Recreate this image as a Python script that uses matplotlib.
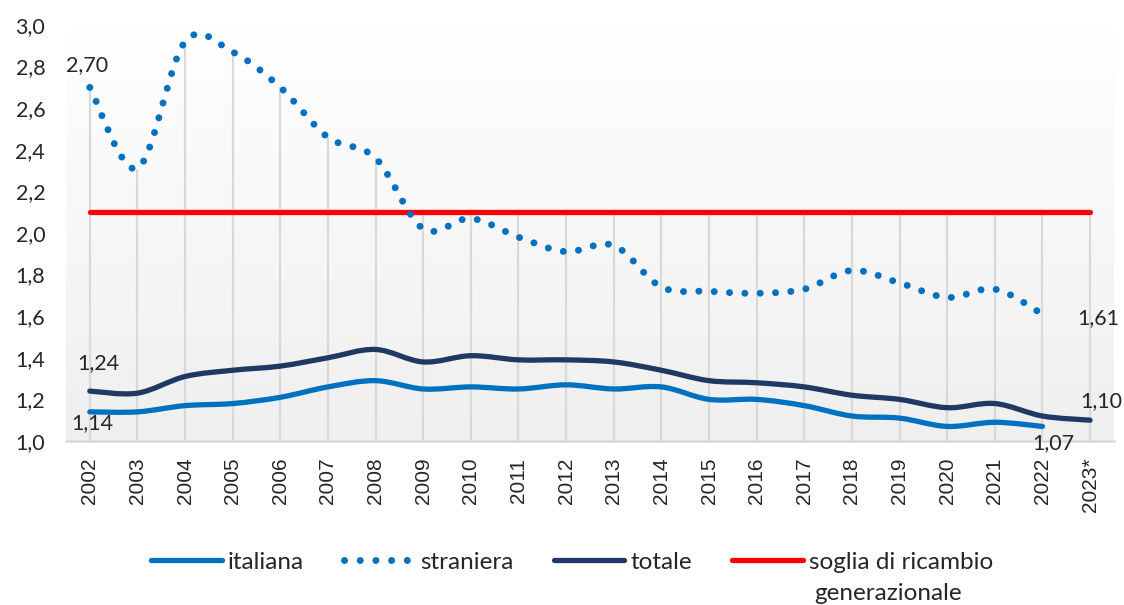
import numpy as np
import matplotlib
matplotlib.use('Agg')
import matplotlib.pyplot as plt
from matplotlib.path import Path
from matplotlib.patches import PathPatch
from matplotlib.lines import Line2D
from matplotlib.colors import LinearSegmentedColormap

# Data
years = ['2002', '2003', '2004', '2005', '2006', '2007', '2008', '2009', '2010', '2011',
         '2012', '2013', '2014', '2015', '2016', '2017', '2018', '2019', '2020', '2021',
         '2022', '2023*']
italiana = [1.14, 1.14, 1.17, 1.18, 1.21, 1.26, 1.29, 1.25, 1.26, 1.25, 1.27, 1.25, 1.26,
            1.20, 1.20, 1.17, 1.12, 1.11, 1.07, 1.09, 1.07]
straniera = [2.70, 2.31, 2.92, 2.87, 2.70, 2.46, 2.36, 2.02, 2.07, 1.98, 1.91, 1.94, 1.74,
             1.72, 1.71, 1.73, 1.82, 1.76, 1.69, 1.73, 1.61]
totale = [1.24, 1.23, 1.31, 1.34, 1.36, 1.40, 1.44, 1.38, 1.41, 1.39, 1.39, 1.38, 1.34,
          1.29, 1.28, 1.26, 1.22, 1.20, 1.16, 1.18, 1.12, 1.10]
soglia = 2.1

c_ita = '#0070C0'
c_str = '#0070C0'
c_tot = '#1F3864'
c_sog = '#FF0000'
c_txt = '#262626'

plt.rcParams['font.family'] = ['Lato', 'DejaVu Sans']


# Excel-like smoothed line as a cubic bezier path
def smooth_path(ys):
    pts = np.column_stack([np.arange(len(ys)), ys]).astype(float)
    n = len(pts)
    verts = [pts[0]]
    codes = [Path.MOVETO]
    for i in range(n - 1):
        p0 = pts[max(i - 1, 0)]
        p1 = pts[i]
        p2 = pts[i + 1]
        p3 = pts[min(i + 2, n - 1)]
        verts += [p1 + (p2 - p0) / 6, p2 - (p3 - p1) / 6, p2]
        codes += [Path.CURVE4] * 3
    return Path(verts, codes)


fig = plt.figure(figsize=(11.24, 6.05), dpi=100)
ax = fig.add_axes([0.0587, 0.2711, 0.9323, 0.6876])

# Gradient plot area
cmap = LinearSegmentedColormap.from_list('bg', ['#efefef', '#ffffff'])
ax.imshow(np.linspace(0, 1, 256).reshape(-1, 1), extent=[-0.5, 21.5, 1.0, 3.0],
          aspect='auto', cmap=cmap, origin='lower', zorder=0)

x = np.arange(len(years))

# Drop lines from the highest point to the axis
tops = []
for i in range(len(years)):
    vals = [soglia, totale[i]]
    if i < len(straniera):
        vals.append(straniera[i])
        vals.append(italiana[i])
    tops.append(max(vals))
ax.vlines(x, 1.0, tops, color='#d9d9d9', lw=1.6, zorder=1)

# Threshold line
ax.plot([x[0], x[-1]], [soglia, soglia], color=c_sog, lw=3.8,
        solid_capstyle='round', zorder=2)

# Series
ax.add_patch(PathPatch(smooth_path(italiana), fill=False, edgecolor=c_ita, lw=3.8,
                       capstyle='round', zorder=3))
ax.add_patch(PathPatch(smooth_path(totale), fill=False, edgecolor=c_tot, lw=3.8,
                       capstyle='round', zorder=3))
ax.add_patch(PathPatch(smooth_path(straniera), fill=False, edgecolor=c_str, lw=5.0,
                       linestyle=(0, (0.01, 2.2)), capstyle='round', zorder=3))

# Data labels
lab = dict(fontsize=15.5, color=c_txt, ha='center', va='center', textcoords='offset points')
ax.annotate('2,70', (0, straniera[0]), xytext=(-2, 16), **lab)
ax.annotate('1,24', (0, totale[0]), xytext=(6, 20), **lab)
ax.annotate('1,14', (0, italiana[0]), xytext=(2, -8), **lab)
ax.annotate('1,61', (20, straniera[20]), xytext=(40, -3), **lab)
ax.annotate('1,07', (20, italiana[20]), xytext=(8, -12), **lab)
ax.annotate('1,10', (21, totale[21]), xytext=(8, 14), **lab)

# Axes
ax.set_xlim(-0.5, 21.5)
ax.set_ylim(1.0, 3.0)
ax.set_yticks(np.arange(1.0, 3.01, 0.2))
ax.set_yticklabels([('%.1f' % v).replace('.', ',') for v in np.arange(1.0, 3.01, 0.2)])
ax.set_xticks(x)
ax.set_xticklabels(years, rotation=90, family='Liberation Sans')
ax.tick_params(axis='y', length=0, pad=15, labelsize=15.5, labelcolor=c_txt)
ax.tick_params(axis='x', length=0, pad=12, labelsize=15, labelcolor=c_txt)
for s in ['top', 'right', 'left']:
    ax.spines[s].set_visible(False)
ax.spines['bottom'].set_color('#d9d9d9')
ax.spines['bottom'].set_linewidth(1.8)
ax.spines['bottom'].set_zorder(1)

# Legend
handles = [
    Line2D([], [], color=c_ita, lw=3.8, solid_capstyle='round'),
    Line2D([], [], color=c_str, lw=5.0, linestyle=(0, (0.01, 2.25)), dash_capstyle='round'),
    Line2D([], [], color=c_tot, lw=3.8, solid_capstyle='round'),
    Line2D([], [], color=c_sog, lw=3.8, solid_capstyle='round'),
]
labels = ['italiana', 'straniera', 'totale', 'soglia di ricambio']
leg = fig.legend(handles, labels, loc='center', bbox_to_anchor=(0.509, 0.071), ncol=4,
                 frameon=False, fontsize=17.5, handlelength=2.9, handletextpad=0.25,
                 columnspacing=1.65, labelcolor=c_txt)

# Second line of the last legend label
fig.canvas.draw()
bb = leg.get_texts()[-1].get_window_extent(fig.canvas.get_renderer())
W, H = fig.bbox.width, fig.bbox.height
fig.text(bb.x0 / W + 0.005, ((bb.y0 + bb.y1) / 2 - 31) / H, 'generazionale', fontsize=17.5,
         color=c_txt, ha='left', va='center')

plt.savefig('out.png', dpi=100)
